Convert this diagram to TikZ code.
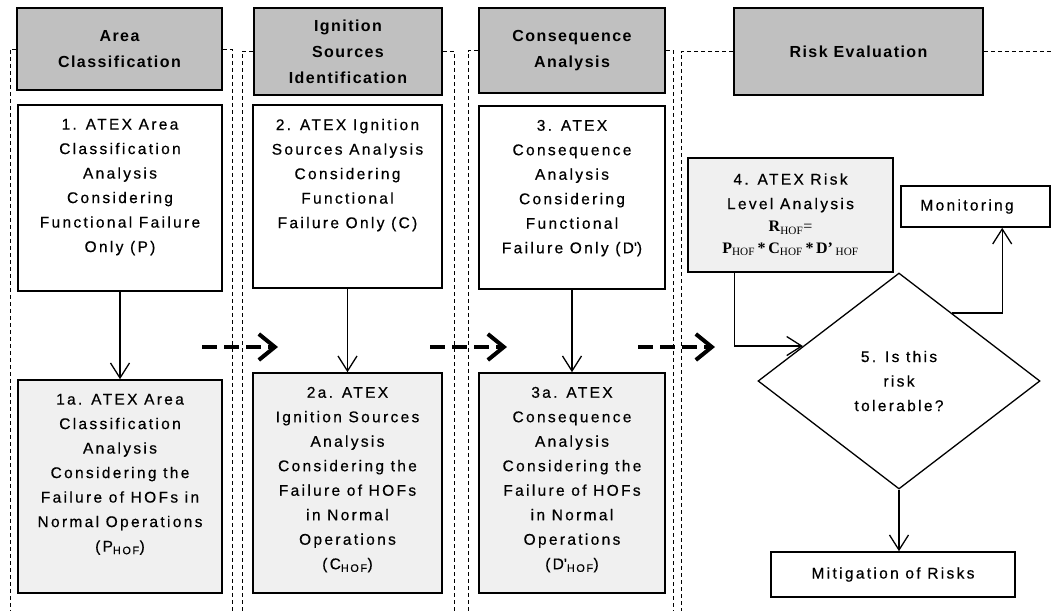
\documentclass[tikz,border=0pt]{standalone}
\usepackage{fontspec}
\setmainfont{Liberation Sans}
\newfontfamily\bxf{Liberation Sans}[LetterSpace=15,FakeBold=0.5]
\newfontfamily\hdf{Liberation Sans}[LetterSpace=9]
\newfontfamily\fmf{Liberation Serif}
\usetikzlibrary{arrows.meta,shapes.geometric,calc}
\definecolor{hgray}{RGB}{192,192,192}
\definecolor{lgray}{RGB}{240,240,240}
\newcommand{\hofsub}{\textsubscript{\normalfont\fmf HOF}}
\begin{document}
\begin{tikzpicture}[x=1pt,y=-1pt,
  hdr/.style={draw, line width=1.6pt, fill=hgray, inner sep=0pt, align=center,
    font=\hdf\bfseries\fontsize{16}{26}\selectfont},
  box/.style={draw, line width=1.6pt, inner sep=0pt},
  txt/.style={inner sep=0pt, align=center, anchor=north,
    font=\bxf\fontsize{15.5}{24.5}\selectfont},
  frame/.style={line width=0.9pt, dash pattern=on 4pt off 3pt},
  arr/.style={line width=1.3pt, -{Straight Barb[length=15pt,width=19pt]}},
  bigarr/.style={line width=4pt, dash pattern=on 15pt off 7pt,
    -{Straight Barb[length=16pt,width=26pt]}}]
\path[use as bounding box] (0,0) rectangle (1053,611);
\fill[white] (0,0) rectangle (1053,611);

% headers
\node[hdr, minimum width=205pt, minimum height=82pt] (h1) at (119.5,49) {Area\\Classification};
\node[hdr, minimum width=188pt, minimum height=87pt] (h2) at (348,51.5) {Ignition\\Sources\\Identification};
\node[hdr, minimum width=186pt, minimum height=85pt] (h3) at (572,50.5) {Consequence\\Analysis};
\node[hdr, minimum width=249pt, minimum height=87pt] (h4) at (858.5,51.5) {Risk Evaluation};

% dashed column frames
\draw[frame] (h1.west) -| (10,611);
\draw[frame] (h1.east) -| (232,611);
\draw[frame] (h2.west) -| (242,611);
\draw[frame] (h2.east) -| (454,611);
\draw[frame] (h3.west) -| (468,611);
\draw[frame] (h3.east) -| (673,611);
\draw[frame] (h4.west) -| (681,611);
\draw[frame] (h4.east) -- (1053,51.5);

% top boxes
\node[box, fill=white, minimum width=204pt, minimum height=186pt] (b1) at (120,198) {};
\node[txt] (t1) at ([yshift=-14.5pt]b1.north) {1. ATEX Area\\Classification\\Analysis\\Considering\\Functional Failure\\Only (P)};
\node[box, fill=white, minimum width=189pt, minimum height=183pt] (b2) at (347.5,196.5) {};
\node[txt] (t2) at ([yshift=-14.5pt]b2.north) {2. ATEX Ignition\\Sources Analysis\\Considering\\Functional\\Failure Only (C)};
\node[box, fill=white, minimum width=186pt, minimum height=183pt] (b3) at (572,197.5) {};
\node[txt] (t3) at ([yshift=-14.5pt]b3.north) {3. ATEX\\Consequence\\Analysis\\Considering\\Functional\\Failure Only (D\textquotesingle)};

% bottom boxes
\node[box, fill=lgray, minimum width=204pt, minimum height=213pt] (b1a) at (120,486.5) {};
\node[txt] (t1a) at ([yshift=-14.5pt]b1a.north) {1a. ATEX Area\\Classification\\Analysis\\Considering the\\Failure of HOFs in\\Normal Operations\\(P\textsubscript{HOF})};
\node[box, fill=lgray, minimum width=189pt, minimum height=220pt] (b2a) at (347.5,483) {};
\node[txt] (t2a) at ([yshift=-14.5pt]b2a.north) {2a. ATEX\\Ignition Sources\\Analysis\\Considering the\\Failure of HOFs\\in Normal\\Operations\\(C\textsubscript{HOF})};
\node[box, fill=lgray, minimum width=186pt, minimum height=220pt] (b3a) at (572,483) {};
\node[txt] (t3a) at ([yshift=-14.5pt]b3a.north) {3a. ATEX\\Consequence\\Analysis\\Considering the\\Failure of HOFs\\in Normal\\Operations\\(D\textquotesingle\textsubscript{HOF})};

% risk evaluation column
\node[box, fill=lgray, minimum width=205pt, minimum height=114pt] (b4) at (790.5,215) {};
\node[txt] (t4) at ([yshift=-16pt]b4.north) {4. ATEX Risk\\Level Analysis\\[-2pt]
  {\fmf\fontsize{16}{22}\selectfont\textbf{R}\hofsub=}\\[-3pt]
  {\fmf\fontsize{16}{22}\selectfont\textbf{P}\hofsub\,\textbf{*}\,\textbf{C}\hofsub\,\textbf{*}\,\textbf{D’}\,\hofsub}};
\node[box, fill=white, minimum width=149pt, minimum height=41pt] (mon) at (975.5,206.5) {};
\node[txt, anchor=west] (tm) at ([xshift=20pt]mon.west) {Monitoring};
\node[draw, diamond, line width=1.3pt, inner sep=0pt, minimum width=282pt, minimum height=216pt] (dia) at (899,381) {};
\node[txt, anchor=center] (t5) at (dia.center) {5. Is this\\risk\\tolerable?};
\node[box, fill=white, minimum width=244pt, minimum height=45pt] (mit) at (893,574.5) {};
\node[txt, anchor=center] (tmit) at (mit.center) {Mitigation of Risks};

% solid connectors
\draw[arr] (b1) -- (b1a);
\draw[arr] (b2) -- (b2a);
\draw[arr] (b3) -- (b3a);
\draw[arr] ([xshift=47pt]b4.south west) |- (dia.160);
\draw[arr] (dia.52) -| ([xshift=102pt]mon.south west);
\draw[arr] (dia.south) -- (dia.south |- mit.north);

% dashed phase arrows
\coordinate (a1s) at (202,347); \coordinate (a1e) at (278,347);
\coordinate (a2s) at (430,347); \coordinate (a2e) at (507,347);
\coordinate (a3s) at (638,347); \coordinate (a3e) at (715,347);
\draw[bigarr] (a1s) -- (a1e);
\draw[bigarr] (a2s) -- (a2e);
\draw[bigarr] (a3s) -- (a3e);
\end{tikzpicture}
\end{document}
